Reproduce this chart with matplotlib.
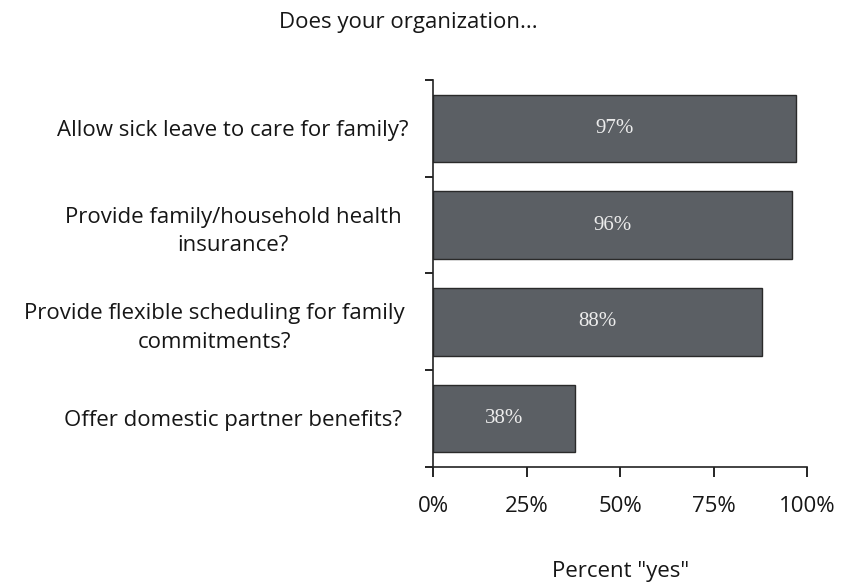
import matplotlib
matplotlib.use("Agg")
import matplotlib.pyplot as plt
import numpy as np

title = "Does your organization..."
categories = [
    "Allow sick leave to care for family?",
    "Provide family/household health\ninsurance?",
    "Provide flexible scheduling for family\ncommitments?",
    "Offer domestic partner benefits?",
]
values = [97, 96, 88, 38]
xticks = [0, 25, 50, 75, 100]
xtick_labels = ["0%", "25%", "50%", "75%", "100%"]
xlabel = 'Percent "yes"'

label_font = ["Open Sans", "DejaVu Sans"]
value_font = ["Liberation Serif", "DejaVu Serif"]
text_color = "#161616"

fig = plt.figure(figsize=(8.41, 5.85), dpi=100)
ax = fig.add_axes([0.515, 0.202, 0.445, 0.661])

y = np.arange(len(categories))
ax.barh(y, values, height=0.7, color="#5b5f64", edgecolor="#2a2a2a", linewidth=1.0)
for yi, v in zip(y, values):
    ax.text(v / 2, yi, f"{v}%", ha="center", va="center", color="#ececec",
            fontsize=15, family=value_font)

ax.set_xlim(0, 100)
ax.set_ylim(len(categories) - 0.5, -0.5)
ax.set_yticks(y)
ax.set_yticklabels(categories, family=label_font, fontsize=16, color=text_color,
                   ha="center", multialignment="center", linespacing=1.45)
# centre of each wrapped label, in axes fraction left of the y axis
label_centres = [-0.535, -0.535, -0.585, -0.535]
for lab, xc in zip(ax.get_yticklabels(), label_centres):
    lab.set_x(xc)
ax.tick_params(axis="y", which="major", length=0, pad=0)
ax.set_yticks(np.arange(-0.5, len(categories), 1.0), minor=True)
ax.tick_params(axis="y", which="minor", length=6, width=1.2, direction="out")

ax.set_xticks(xticks)
ax.set_xticklabels(xtick_labels, family=label_font, fontsize=16, color=text_color)
ax.tick_params(axis="x", length=7, width=1.2, direction="out", pad=14)

for side in ["top", "right"]:
    ax.spines[side].set_visible(False)
for side in ["left", "bottom"]:
    ax.spines[side].set_linewidth(1.2)
    ax.spines[side].set_color("#222222")

ax.set_xlabel(xlabel, family=label_font, fontsize=16, color=text_color, labelpad=32)
fig.text(0.485, 0.962, title, ha="center", va="center", family=label_font,
         fontsize=16, color=text_color)

fig.savefig("out.png", dpi=100)
